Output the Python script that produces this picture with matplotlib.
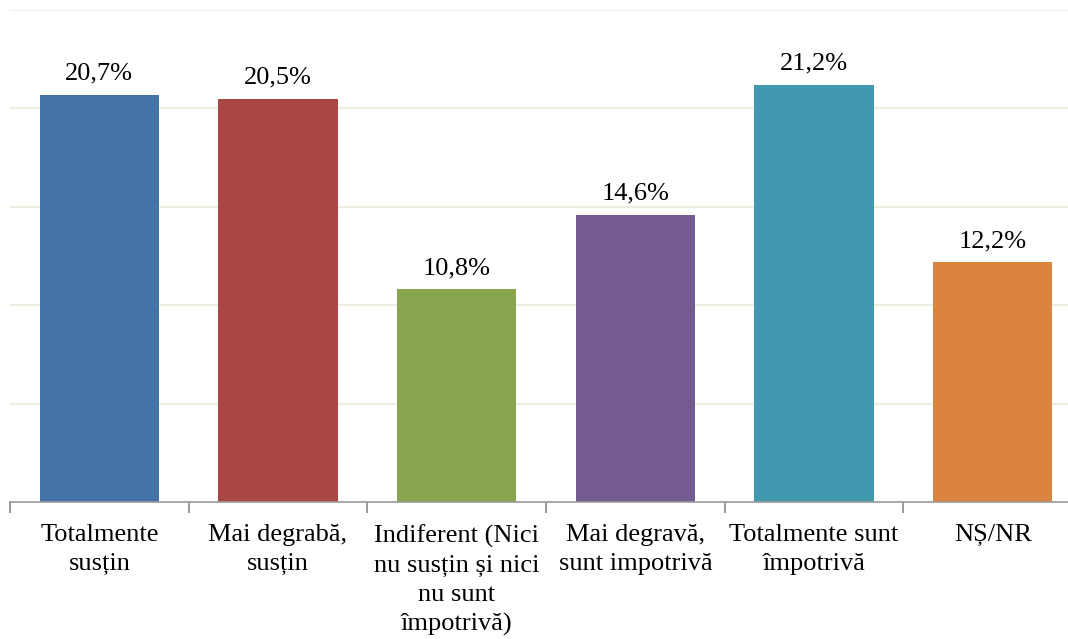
import matplotlib.pyplot as plt

plt.rcParams['font.family'] = ['Liberation Serif', 'DejaVu Serif']

categories = ["Totalmente\nsusțin", "Mai degrabă,\nsusțin",
              "Indiferent (Nici\nnu susțin și nici\nnu sunt\nîmpotrivă)",
              "Mai degravă,\nsunt impotrivă", "Totalmente sunt\nîmpotrivă", "NȘ/NR"]
values = [20.7, 20.5, 10.8, 14.6, 21.2, 12.2]
value_labels = ["20,7%", "20,5%", "10,8%", "14,6%", "21,2%", "12,2%"]
colors = ["#4572A7", "#AA4643", "#89A54E", "#735A8F", "#4198AF", "#DB843D"]

fig = plt.figure(figsize=(10.68, 6.39), dpi=100)
# axes runs a bit past the right edge, as in the original
ax = fig.add_axes([10 / 1068, 1 - 502 / 639, 1072 / 1068, 492 / 639])

x = range(len(values))
ax.bar(x, values, width=0.667, color=colors, zorder=2)
for i, v in enumerate(values):
    ax.text(i, v + 0.5, value_labels[i], ha="center", va="bottom", fontsize=19)

ax.set_xlim(-0.5, len(values) - 0.5)
ax.set_ylim(0, 25)
ax.set_yticks([5, 10, 15, 20, 25])
ax.yaxis.grid(True, color="#EEEDE4", linewidth=1.5, zorder=0)
ax.tick_params(axis="y", length=0, labelleft=False)

ax.set_xticks([i - 0.5 for i in range(len(values) + 1)], minor=False)
ax.set_xticklabels([])
ax.set_xticks(list(x), minor=True)
ax.set_xticklabels(categories, minor=True, fontsize=19, linespacing=1.42)
ax.tick_params(axis="x", which="major", length=8, color="#888888", width=1.2)
ax.tick_params(axis="x", which="minor", length=0, pad=16)

for s in ["top", "right", "left"]:
    ax.spines[s].set_visible(False)
ax.spines["bottom"].set_color("#999999")
ax.spines["bottom"].set_linewidth(1.2)

fig.savefig("out.png", dpi=100)
